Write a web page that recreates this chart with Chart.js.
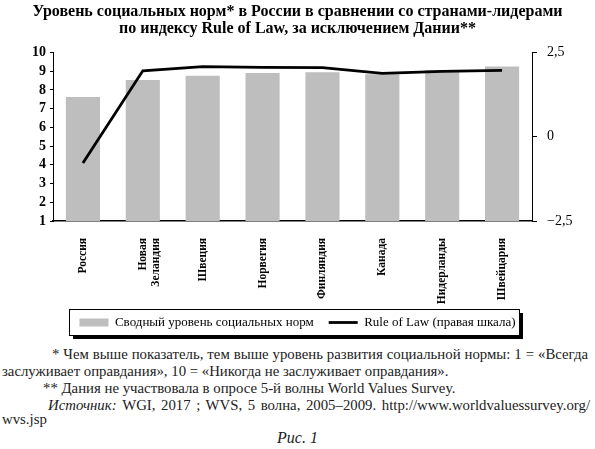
<!DOCTYPE html>
<html><head><meta charset="utf-8">
<script src="https://cdn.jsdelivr.net/npm/chart.js@4.4.1/dist/chart.umd.min.js"></script>
<style>
html,body{margin:0;padding:0;background:#fff;}
#wrap{position:absolute;left:0;top:0;width:595px;height:345px;}
.fn{position:absolute;font-family:'Liberation Serif',serif;font-size:14.8px;line-height:17px;color:#222;white-space:nowrap;}
</style></head><body>
<div id="wrap"><canvas id="c"></canvas></div>
<div class="fn js" data-w="536" style="left:52px;top:346px;">* Чем выше показатель, тем выше уровень развития социальной нормы: 1 = «Всегда</div>
<div class="fn" style="left:2px;top:363px;">заслуживает оправдания», 10 = «Никогда не заслуживает оправдания».</div>
<div class="fn" style="left:43px;top:380px;">** Дания не участвовала в опросе 5-й волны World Values Survey.</div>
<div class="fn js" data-w="542" style="left:48px;top:397px;"><i>Источник:</i> WGI, 2017 ; WVS, 5 волна, 2005–2009. http://www.worldvaluessurvey.org/</div>
<div class="fn" style="left:2px;top:411px;">wvs.jsp</div>
<div class="fn" style="left:277px;top:429px;font-size:16px;"><i>Рис. 1</i></div>
<script>
// justify single lines by word spacing
document.querySelectorAll('.js').forEach(el => {
  const target = +el.dataset.w;
  const nat = el.getBoundingClientRect().width;
  const spaces = (el.textContent.match(/ /g) || []).length;
  if (spaces) el.style.wordSpacing = ((target - nat) / spaces) + 'px';
});

const titleLines = ['Уровень социальных норм* в России в сравнении со странами-лидерами', 'по индексу Rule of Law, за исключением Дании**'];
const categories = ['Россия', ['Новая', 'Зеландия'], 'Швеция', 'Норвегия', 'Финляндия', 'Канада', 'Нидерланды', 'Швейцария'];
const socialNorms = [7.63, 8.54, 8.76, 8.91, 8.95, 8.84, 9.07, 9.26];
const ruleOfLaw = [-0.78, 1.96, 2.08, 2.06, 2.05, 1.88, 1.94, 1.97];
const seriesNames = ['Сводный уровень социальных норм', 'Rule of Law (правая шкала)'];

const SERIF = "'Liberation Serif', serif";

const legendFrame = {
  id: 'legendFrame',
  afterDraw(chart) {
    const lg = chart.legend;
    if (!lg || !lg.legendHitBoxes || !lg.legendHitBoxes.length) return;
    const hb = lg.legendHitBoxes;
    const l = Math.round(Math.min(...hb.map(h => h.left)) - 10);
    const r = Math.round(Math.max(...hb.map(h => h.left + h.width)) + 3);
    const t = Math.round(Math.min(...hb.map(h => h.top)) - 7);
    const b = Math.round(Math.max(...hb.map(h => h.top + h.height)) + 6);
    const ctx = chart.ctx;
    ctx.save();
    ctx.fillStyle = '#000';
    ctx.fillRect(l + 4, b, r - l, 4);
    ctx.fillRect(r, t + 4, 4, b - t);
    ctx.strokeStyle = '#000';
    ctx.lineWidth = 1;
    ctx.strokeRect(l + 0.5, t + 0.5, r - l, b - t);
    ctx.restore();
  }
};

new Chart(document.getElementById('c'), {
  data: {
    labels: categories,
    datasets: [
      {
        type: 'line', label: seriesNames[1], data: ruleOfLaw, yAxisID: 'y2',
        borderColor: '#000', borderWidth: 2.8, pointRadius: 0, tension: 0, order: 0
      },
      {
        type: 'bar', label: seriesNames[0], data: socialNorms, yAxisID: 'y',
        backgroundColor: '#bebebe', borderWidth: 0, categoryPercentage: 1, barPercentage: 0.57, order: 1
      }
    ]
  },
  plugins: [legendFrame],
  options: {
    responsive: true, maintainAspectRatio: false, animation: false,
    layout: { padding: { left: 23, right: 23, top: 0, bottom: 6 } },
    plugins: {
      tooltip: { enabled: false },
      title: {
        display: true, text: titleLines, color: '#000',
        font: { family: SERIF, size: 16, weight: 'bold', lineHeight: 1.08 },
        padding: { top: 3, bottom: 15 }
      },
      legend: {
        position: 'bottom',
        reverse: true,
        labels: {
          color: '#000',
          font: { family: SERIF, size: 13 },
          usePointStyle: true, pointStyleWidth: 29,
          boxWidth: 29, boxHeight: 8, padding: 15,
          generateLabels(chart) {
            return chart.data.datasets.map((ds, i) => ({
              text: ds.label,
              fillStyle: ds.type === 'bar' ? ds.backgroundColor : '#000',
              strokeStyle: ds.type === 'bar' ? ds.backgroundColor : '#000',
              lineWidth: ds.type === 'bar' ? 0 : 2.8,
              pointStyle: ds.type === 'bar' ? 'rect' : 'line',
              fontColor: '#000',
              datasetIndex: i, hidden: false
            }));
          }
        }
      }
    },
    scales: {
      x: {
        grid: { display: false },
        border: { display: true, color: '#000', width: 1.5 },
        afterFit(s) { s.height = 80; s._computeLabelArea = () => undefined; },
        ticks: {
          color: '#000', font: { family: SERIF, size: 11.5, weight: 'bold', lineHeight: 1.15 },
          minRotation: 90, maxRotation: 90, autoSkip: false, padding: 9
        }
      },
      y: {
        position: 'left', min: 1, max: 10,
        afterFit(s) { s.width = 30; },
        grid: { drawOnChartArea: false, drawTicks: true, tickLength: 3, color: '#000' },
        border: { display: true, color: '#000', width: 1 },
        ticks: { stepSize: 1, autoSkip: false, color: '#000', font: { family: SERIF, size: 14, weight: 'bold' }, padding: 4 }
      },
      y2: {
        position: 'right', min: -2.5, max: 2.5,
        afterFit(s) { s.width = 40; },
        grid: { drawOnChartArea: false, drawTicks: true, tickLength: 5, color: '#000' },
        border: { display: true, color: '#000', width: 1 },
        ticks: {
          stepSize: 2.5, autoSkip: false, color: '#000', font: { family: SERIF, size: 14 }, padding: 10,
          callback: v => (v < 0 ? '−' : '') + Math.abs(v).toString().replace('.', ',')
        }
      }
    }
  }
});
</script>
</body></html>
